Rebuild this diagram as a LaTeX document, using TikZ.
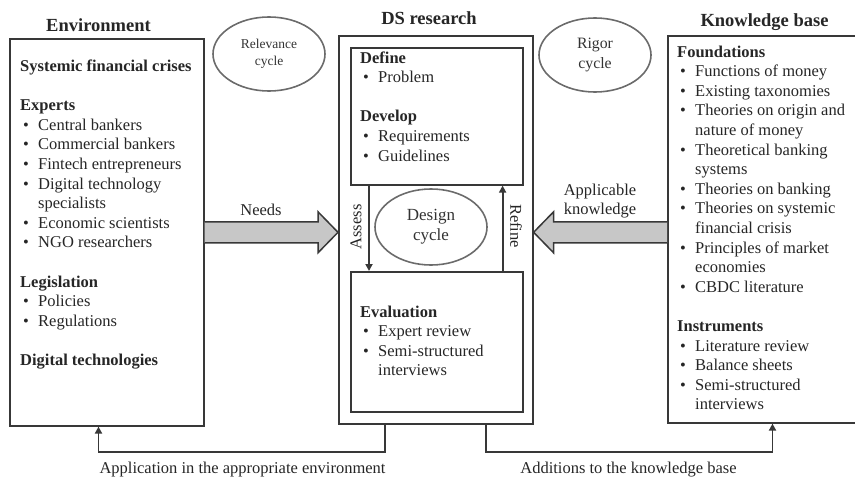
\documentclass[tikz,border=0pt]{standalone}
\usepackage{fontspec}
\setmainfont{Liberation Serif}
\usetikzlibrary{shapes.geometric,arrows.meta,calc}

% one line of a list: bold heading, bulleted item, continuation of an item
\newcommand\secthead[1]{\textbf{#1}}
\newcommand\bulletline[1]{\makebox[0pt][l]{\hspace{3pt}\textbullet}\hspace{18pt}#1}
\newcommand\contline[1]{\hspace{18pt}#1}

\begin{document}
\begin{tikzpicture}[x=1pt,y=-1pt,
  panel/.style={draw=black!78,line width=1.6pt,inner sep=0pt,anchor=north west},
  listline/.style={font=\fontsize{16.5}{19.6}\selectfont,text=black!85,inner sep=0pt,anchor=base west},
  heading/.style={font=\fontsize{18.5}{22}\selectfont\bfseries,text=black!85,inner sep=0pt,anchor=base},
  plainlabel/.style={font=\fontsize{16.5}{19.6}\selectfont,text=black!85,inner sep=0pt},
  cyclenode/.style={ellipse,draw=black!58,line width=1.6pt,align=center,inner sep=0pt,text=black!80,
                    minimum width=112pt,minimum height=74pt},
  link/.style={draw=black!78,line width=1.8pt,line join=miter},
  tip/.style={-{Triangle[width=7pt,length=7pt]}},
  blockarrow/.style={draw=black!78,fill=black!22,line width=1.5pt,line join=miter}]

\useasboundingbox (0,0) rectangle (855,479);

% the three columns and the two inner boxes of the middle one
\node[panel,minimum width=194pt,minimum height=387pt] (env) at (9,38) {};
\node[panel,minimum width=194pt,minimum height=388pt] (ds) at (338,35) {};
\node[panel,minimum width=172pt,minimum height=137pt] (def) at (350,47) {};
\node[panel,minimum width=172pt,minimum height=140pt] (eval) at (350,271) {};
\node[panel,minimum width=200pt,minimum height=387pt] (kb) at (667,35) {};

% column headings
\node[heading] (env-title) at (98.5,31) {Environment};
\node[heading] (ds-title) at (429,24) {DS research};
\node[heading] (kb-title) at (764.5,26) {Knowledge base};

% cycles
\node[cyclenode,font=\fontsize{13.5}{17}\selectfont] (relevance) at (269,54) {Relevance\\cycle};
\node[cyclenode,font=\fontsize{15.8}{19.5}\selectfont] (rigor) at (595,55) {Rigor\\cycle};
\node[cyclenode,font=\fontsize{17}{20}\selectfont,minimum height=76pt] (design) at (431,227) {Design\\cycle};

% environment list
\foreach \n/\t in {0/\secthead{Systemic financial crises},
  2/\secthead{Experts},
  3/\bulletline{Central bankers},
  4/\bulletline{Commercial bankers},
  5/\bulletline{Fintech entrepreneurs},
  6/\bulletline{Digital technology},
  7/\contline{specialists},
  8/\bulletline{Economic scientists},
  9/\bulletline{NGO researchers},
  11/\secthead{Legislation},
  12/\bulletline{Policies},
  13/\bulletline{Regulations},
  15/\secthead{Digital technologies}}
  \node[listline] (env-t\n) at ($(env.north west)+(11,33.5+\n*19.6)$) {\t};

% knowledge base list
\foreach \n/\t in {0/\secthead{Foundations},
  1/\bulletline{Functions of money},
  2/\bulletline{Existing taxonomies},
  3/\bulletline{Theories on origin and},
  4/\contline{nature of money},
  5/\bulletline{Theoretical banking},
  6/\contline{systems},
  7/\bulletline{Theories on banking},
  8/\bulletline{Theories on systemic},
  9/\contline{financial crisis},
  10/\bulletline{Principles of market},
  11/\contline{economies},
  12/\bulletline{CBDC literature},
  14/\secthead{Instruments},
  15/\bulletline{Literature review},
  16/\bulletline{Balance sheets},
  17/\bulletline{Semi-structured},
  18/\contline{interviews}}
  \node[listline] (kb-t\n) at ($(kb.north west)+(10,22+\n*19.6)$) {\t};

% define / develop
\foreach \n/\t in {0/\secthead{Define},
  1/\bulletline{Problem},
  3/\secthead{Develop},
  4/\bulletline{Requirements},
  5/\bulletline{Guidelines}}
  \node[listline] (def-t\n) at ($(def.north west)+(10,16+\n*19.6)$) {\t};

% evaluation
\foreach \n/\t in {0/\secthead{Evaluation},
  1/\bulletline{Expert review},
  2/\bulletline{Semi-structured},
  3/\contline{interviews}}
  \node[listline] (eval-t\n) at ($(eval.north west)+(10,46+\n*19.6)$) {\t};

% assess / refine loop inside the design cycle
\draw[link,tip] ($(def.south west)+(19,0)$) -- ($(eval.north west)+(19,0)$);
\draw[link,tip] ($(eval.north east)+(-21,0)$) -- ($(def.south east)+(-21,0)$);
\node[plainlabel,rotate=90] (assess) at (356,227) {Assess};
\node[plainlabel,rotate=-90] (refine) at (516,226) {Refine};

% needs: environment -> DS research
\coordinate (needtip) at (ds.west |- env.east);
\draw[blockarrow] ($(env.east)+(0,-10.5)$) -- ($(needtip)+(-20,-10.5)$) -- ($(needtip)+(-20,-20.5)$)
  -- (needtip) -- ($(needtip)+(-20,20.5)$) -- ($(needtip)+(-20,10.5)$) -- ($(env.east)+(0,10.5)$);
\node[plainlabel,anchor=base] (needs) at (261,215) {Needs};

% applicable knowledge: knowledge base -> DS research
\coordinate (knowtip) at (ds.east |- env.east);
\coordinate (knowbase) at (kb.west |- env.east);
\draw[blockarrow] ($(knowbase)+(0,-10.5)$) -- ($(knowtip)+(20,-10.5)$) -- ($(knowtip)+(20,-20.5)$)
  -- (knowtip) -- ($(knowtip)+(20,20.5)$) -- ($(knowtip)+(20,10.5)$) -- ($(knowbase)+(0,10.5)$);
\node[plainlabel,align=center] (applicable) at (600,201) {Applicable\\knowledge};

% feedback to the environment and to the knowledge base
\coordinate (appturn) at (98.5,452);
\draw[link,tip] ($(ds.south west)+(47,0)$) |- (appturn) -- (appturn |- env.south);
\node[plainlabel,anchor=base] (application) at (242.5,473) {Application in the appropriate environment};

\coordinate (addturn) at (772.5,452);
\draw[link,tip] ($(ds.south west)+(148,0)$) |- (addturn) -- (addturn |- kb.south);
\node[plainlabel,anchor=base] (additions) at (628.5,473) {Additions to the knowledge base};

\end{tikzpicture}
\end{document}
